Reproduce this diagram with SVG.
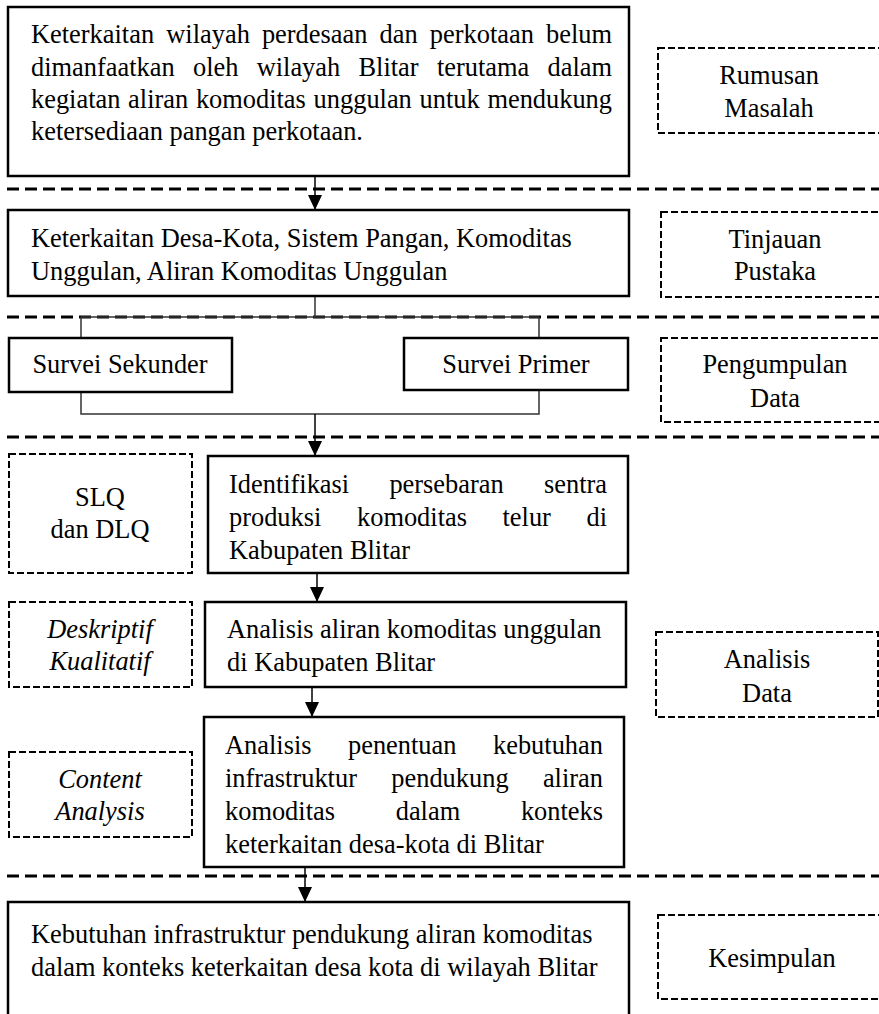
<svg xmlns="http://www.w3.org/2000/svg" width="879" height="1014" viewBox="0 0 879 1014">
  <defs>
    <style>
      text { font-family: "Liberation Serif", "Times New Roman", serif; font-size: 26.4px; fill: #000; }
      .c { text-anchor: middle; }
      .i { font-style: italic; }
      .box { fill: #fff; stroke: #000; stroke-width: 2.5; }
      .side { fill: #fff; stroke: #000; stroke-width: 2; stroke-dasharray: 7 3; }
      .sep { fill: none; stroke: #000; stroke-width: 3; stroke-dasharray: 12 6; }
      .link { fill: none; stroke: #333; stroke-width: 1.5; }
      .arrow { fill: none; stroke: #000; stroke-width: 1.5; marker-end: url(#head); }
    </style>
    <marker id="head" markerUnits="userSpaceOnUse" markerWidth="15" markerHeight="14" refX="15" refY="7" orient="auto">
      <path d="M0,0 L15,7 L0,14 Z" fill="#000"/>
    </marker>
  </defs>

  <rect width="879" height="1014" fill="#fff"/>

  <!-- stage separators -->
  <g id="separators">
    <line class="sep" x1="7" y1="189" x2="879" y2="189"/>
    <line class="sep" x1="7" y1="317" x2="879" y2="317"/>
    <line class="sep" x1="7" y1="437" x2="879" y2="437"/>
    <line class="sep" x1="7" y1="876" x2="879" y2="876"/>
  </g>

  <!-- connectors -->
  <g id="connectors">
    <line class="arrow" x1="315" y1="176" x2="315" y2="210"/>
    <path class="link" d="M315,296 V317 M81,317 H539 M81,317 V338 M539,317 V338"/>
    <path class="link" d="M81,392 V414 H539 V390"/>
    <line class="arrow" x1="315" y1="414" x2="315" y2="456"/>
    <line class="arrow" x1="317" y1="573" x2="317" y2="602"/>
    <line class="arrow" x1="312" y1="684" x2="312" y2="717"/>
    <line class="arrow" x1="305" y1="867" x2="305" y2="902"/>
  </g>

  <!-- problem statement -->
  <g id="masalah">
    <rect class="box" x="8" y="7" width="621" height="169"/>
    <text y="43"><tspan x="31">Keterkaitan</tspan><tspan x="166.3">wilayah</tspan><tspan x="261.9">perdesaan</tspan><tspan x="379.6">dan</tspan><tspan x="429.8">perkotaan</tspan><tspan x="546">belum</tspan></text>
    <text y="76"><tspan x="31">dimanfaatkan</tspan><tspan x="193">oleh</tspan><tspan x="256.7">wilayah</tspan><tspan x="358.5">Blitar</tspan><tspan x="436.9">terutama</tspan><tspan x="547.5">dalam</tspan></text>
    <text y="108"><tspan x="31">kegiatan</tspan><tspan x="128.1">aliran</tspan><tspan x="195.9">komoditas</tspan><tspan x="313.6">unggulan</tspan><tspan x="419.5">untuk</tspan><tspan x="487.4">mendukung</tspan></text>
    <text x="31" y="140">ketersediaan pangan perkotaan.</text>
  </g>
  <g id="label-rumusan">
    <rect class="side" x="658" y="48" width="226" height="85"/>
    <text class="c" x="769" y="84">Rumusan</text>
    <text class="c" x="769" y="117">Masalah</text>
  </g>

  <!-- literature review -->
  <g id="tinjauan">
    <rect class="box" x="8" y="210" width="621" height="86"/>
    <text x="31" y="247">Keterkaitan Desa-Kota, Sistem Pangan, Komoditas</text>
    <text x="31" y="280">Unggulan, Aliran Komoditas Unggulan</text>
  </g>
  <g id="label-tinjauan">
    <rect class="side" x="661" y="212" width="228" height="85"/>
    <text class="c" x="775" y="248">Tinjauan</text>
    <text class="c" x="775" y="280">Pustaka</text>
  </g>

  <!-- data collection -->
  <g id="survei-sekunder">
    <rect class="box" x="9" y="338" width="223" height="54"/>
    <text class="c" x="120" y="373">Survei Sekunder</text>
  </g>
  <g id="survei-primer">
    <rect class="box" x="404" y="338" width="224" height="52"/>
    <text class="c" x="516" y="373">Survei Primer</text>
  </g>
  <g id="label-pengumpulan">
    <rect class="side" x="661" y="338" width="228" height="84"/>
    <text class="c" x="775" y="373">Pengumpulan</text>
    <text class="c" x="775" y="407">Data</text>
  </g>

  <!-- analysis steps -->
  <g id="identifikasi">
    <rect class="box" x="208" y="456" width="420" height="117"/>
    <text y="493"><tspan x="229">Identifikasi</tspan><tspan x="389.4">persebaran</tspan><tspan x="544">sentra</tspan></text>
    <text y="526"><tspan x="229">produksi</tspan><tspan x="357">komoditas</tspan><tspan x="502.5">telur</tspan><tspan x="586.5">di</tspan></text>
    <text x="229" y="559">Kabupaten Blitar</text>
  </g>
  <g id="method-slq">
    <rect class="side" x="9" y="454" width="183" height="119"/>
    <text class="c" x="100" y="506">SLQ</text>
    <text class="c" x="100" y="538">dan DLQ</text>
  </g>

  <g id="aliran">
    <rect class="box" x="205" y="602" width="421" height="85"/>
    <text x="227" y="638">Analisis aliran komoditas unggulan</text>
    <text x="227" y="671">di Kabupaten Blitar</text>
  </g>
  <g id="method-deskriptif">
    <rect class="side" x="9" y="602" width="183" height="85"/>
    <text class="c i" x="100" y="638">Deskriptif</text>
    <text class="c i" x="100" y="670">Kualitatif</text>
  </g>
  <g id="label-analisis">
    <rect class="side" x="656" y="632" width="222" height="85"/>
    <text class="c" x="767" y="668">Analisis</text>
    <text class="c" x="767" y="702">Data</text>
  </g>

  <g id="kebutuhan">
    <rect class="box" x="204" y="717" width="420" height="150"/>
    <text y="754"><tspan x="225">Analisis</tspan><tspan x="348">penentuan</tspan><tspan x="493">kebutuhan</tspan></text>
    <text y="787"><tspan x="225">infrastruktur</tspan><tspan x="391.3">pendukung</tspan><tspan x="542.9">aliran</tspan></text>
    <text y="820"><tspan x="225">komoditas</tspan><tspan x="395.7">dalam</tspan><tspan x="520.9">konteks</tspan></text>
    <text x="225" y="853">keterkaitan desa-kota di Blitar</text>
  </g>
  <g id="method-content">
    <rect class="side" x="9" y="752" width="183" height="85"/>
    <text class="c i" x="100" y="788">Content</text>
    <text class="c i" x="100" y="820">Analysis</text>
  </g>

  <!-- conclusion -->
  <g id="kesimpulan">
    <rect class="box" x="8" y="902" width="621" height="140"/>
    <text x="31" y="943">Kebutuhan infrastruktur pendukung aliran komoditas</text>
    <text x="31" y="976">dalam konteks keterkaitan desa kota di wilayah Blitar</text>
  </g>
  <g id="label-kesimpulan">
    <rect class="side" x="658" y="915" width="228" height="84"/>
    <text class="c" x="772" y="967">Kesimpulan</text>
  </g>
</svg>
